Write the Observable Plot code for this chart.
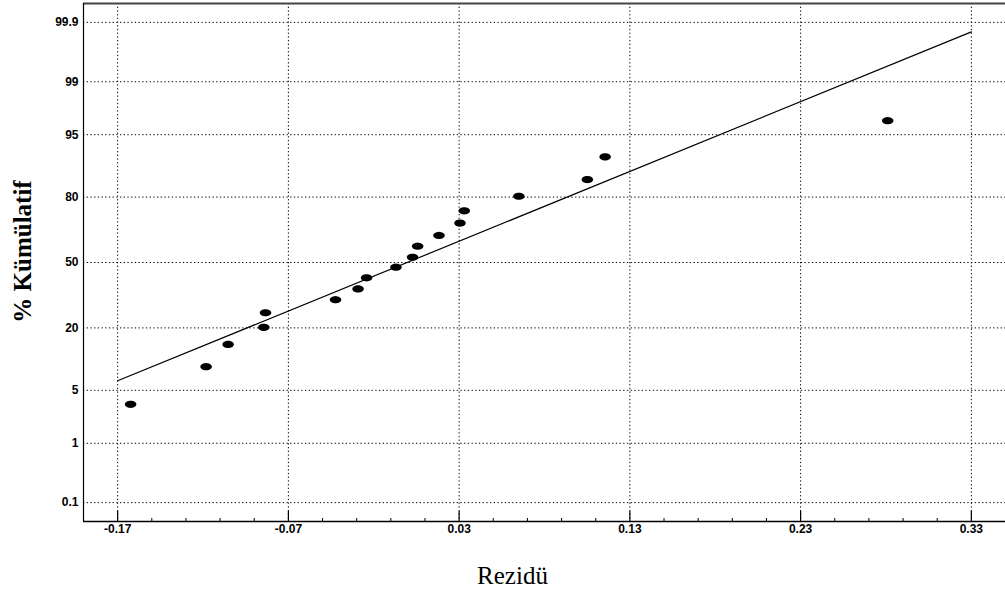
<!DOCTYPE html>
<html><head><meta charset="utf-8">
<script src="https://cdn.jsdelivr.net/npm/d3@7"></script>
<script src="https://cdn.jsdelivr.net/npm/@observablehq/plot@0.6"></script>
<style>body{margin:0;background:#fff}</style>
</head><body><div id="chart"></div>
<script>
// Residuals (Rezidü) and their cumulative percentages (% Kümülatif)
const residuals = [-0.1624, -0.1182, -0.1053, -0.0844, -0.0834, -0.0424, -0.0292, -0.0242, -0.007, 0.0027, 0.0057, 0.0182, 0.0305, 0.033, 0.065, 0.1051, 0.1155, 0.281];
const cumulativePct = [3.4, 9.0, 14.6, 20.2, 25.9, 31.6, 36.7, 42.2, 47.6, 52.7, 58.3, 63.6, 69.4, 74.7, 80.3, 85.7, 91.3, 96.6];
// Fitted normal reference line endpoints
const fitResidual = [-0.17, 0.33];
const fitPct = [6.4, 99.85];
// Tick values and labels
const yTickPct = [0.1, 1, 5, 20, 50, 80, 95, 99, 99.9];
const yTickLabels = ["0.1", "1", "5", "20", "50", "80", "95", "99", "99.9"];
const xTickValues = [-0.17, -0.07, 0.03, 0.13, 0.23, 0.33];
const xTickLabels = ["-0.17", "-0.07", "0.03", "0.13", "0.23", "0.33"];
const xMinorTicks = [-0.15, -0.13, -0.11, -0.09, -0.05, -0.03, -0.01, 0.01, 0.05, 0.07, 0.09, 0.11, 0.15, 0.17, 0.19, 0.21, 0.25, 0.27, 0.29, 0.31];
const xDomain = [-0.19, 0.35];
const zDomain = [-3.333, 3.333];

// inverse standard normal CDF (Acklam) for the probability scale
function probit(p) {
  const a = [-3.969683028665376e+01, 2.209460984245205e+02, -2.759285104469687e+02, 1.383577518672690e+02, -3.066479806614716e+01, 2.506628277459239e+00];
  const b = [-5.447609879822406e+01, 1.615858368580409e+02, -1.556989798598866e+02, 6.680131188771972e+01, -1.328068155288572e+01];
  const c = [-7.784894002430293e-03, -3.223964580411365e-01, -2.400758277161838e+00, -2.549732539343734e+00, 4.374664141464968e+00, 2.938163982698783e+00];
  const d = [7.784695709041462e-03, 3.224671290700398e-01, 2.445134137142996e+00, 3.754408661907416e+00];
  const pl = 0.02425, ph = 1 - pl;
  let q, r;
  if (p < pl) {
    q = Math.sqrt(-2 * Math.log(p));
    return (((((c[0]*q+c[1])*q+c[2])*q+c[3])*q+c[4])*q+c[5]) / ((((d[0]*q+d[1])*q+d[2])*q+d[3])*q+1);
  } else if (p <= ph) {
    q = p - 0.5; r = q*q;
    return (((((a[0]*r+a[1])*r+a[2])*r+a[3])*r+a[4])*r+a[5])*q / (((((b[0]*r+b[1])*r+b[2])*r+b[3])*r+b[4])*r+1);
  } else {
    q = Math.sqrt(-2 * Math.log(1 - p));
    return -(((((c[0]*q+c[1])*q+c[2])*q+c[3])*q+c[4])*q+c[5]) / ((((d[0]*q+d[1])*q+d[2])*q+d[3])*q+1);
  }
}

const points = residuals.map((x, i) => ({x, z: probit(cumulativePct[i] / 100)}));
const fit = fitResidual.map((x, i) => ({x, z: probit(fitPct[i] / 100)}));
const yTickZ = yTickPct.map(p => probit(p / 100));
const yLabelMap = new Map(yTickZ.map((z, i) => [z, yTickLabels[i]]));
const xLabelMap = new Map(xTickValues.map((x, i) => [x, xTickLabels[i]]));

const ellipse = {
  draw(ctx, size) {
    const r = Math.sqrt(size / Math.PI), rx = r * 1.6, ry = r;
    for (let k = 0; k <= 32; k++) {
      const t = (k / 32) * 2 * Math.PI;
      const px = rx * Math.cos(t), py = ry * Math.sin(t);
      if (k === 0) ctx.moveTo(px, py); else ctx.lineTo(px, py);
    }
    ctx.closePath();
  }
};

const dotted = {stroke: "#000", strokeWidth: 1, strokeDasharray: "1.3,2.4"};

const chart = Plot.plot({
  width: 1005,
  height: 591,
  marginLeft: 83,
  marginRight: 0,
  marginTop: 3,
  marginBottom: 70,
  x: {domain: xDomain},
  y: {domain: zDomain},
  style: {fontFamily: "Arial, 'Liberation Sans', sans-serif", fontSize: "12px", fontWeight: "bold", background: "#fff", color: "#000"},
  marks: [
    Plot.ruleY(yTickZ, {y: d => d, ...dotted}),
    Plot.ruleX(xTickValues, {x: d => d, ...dotted}),
    Plot.ruleX(xTickValues, {x: d => d, y1: zDomain[0], y2: zDomain[0], insetTop: -10, stroke: "#000", strokeWidth: 1.2}),
    Plot.ruleX(xMinorTicks, {x: d => d, y1: zDomain[0], y2: zDomain[0], insetTop: -3, stroke: "#000", strokeWidth: 1}),
    Plot.ruleY([zDomain[0]], {y: d => d, stroke: "#000", strokeWidth: 1.5}),
    Plot.ruleY([zDomain[1]], {y: d => d, stroke: "#444", strokeWidth: 2}),
    Plot.ruleX([xDomain[0]], {x: d => d, stroke: "#000", strokeWidth: 1.2}),
    Plot.line(fit, {x: "x", y: "z", stroke: "#000", strokeWidth: 1.2}),
    Plot.dot(points, {x: "x", y: "z", r: 3.6, symbol: ellipse, fill: "#000", stroke: "none"}),
    Plot.axisX(xTickValues, {tickSize: 0, tickPadding: 3, tickFormat: d => xLabelMap.get(d), label: null}),
    Plot.axisY(yTickZ, {tickSize: 0, tickPadding: 5, tickFormat: d => yLabelMap.get(d), label: null}),
    Plot.text(["Rezidü"], {text: d => d, frameAnchor: "bottom", dx: -32, dy: 54, textAnchor: "middle", fontFamily: "'Times New Roman', 'Liberation Serif', serif", fontSize: 25, fontWeight: "normal", lineAnchor: "middle"}),
    Plot.text(["% Kümülatif"], {text: d => d, frameAnchor: "left", dx: -61, dy: -11, rotate: -90, textAnchor: "middle", fontFamily: "'Times New Roman', 'Liberation Serif', serif", fontSize: 25, fontWeight: "bold", lineAnchor: "middle"})
  ]
});
document.getElementById("chart").appendChild(chart);
</script>
</body></html>
